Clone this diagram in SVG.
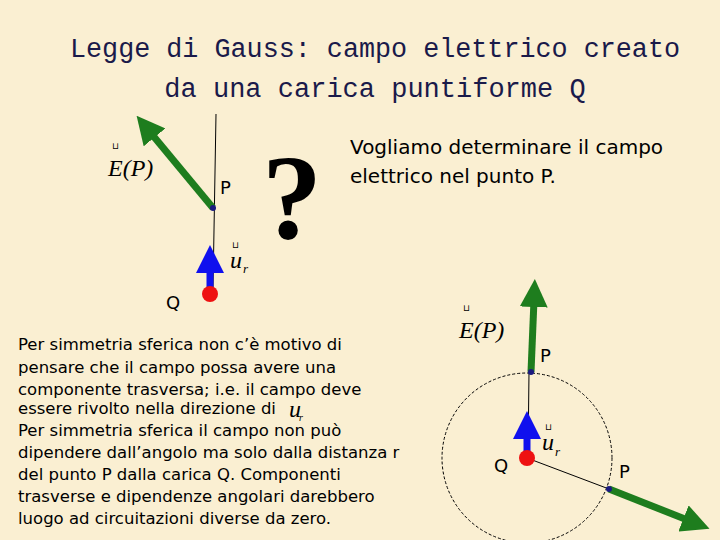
<svg xmlns="http://www.w3.org/2000/svg" width="720" height="540" viewBox="0 0 720 540">
<defs>
<style>
.t{font-family:"DejaVu Sans",sans-serif;font-size:16.5px;fill:#000}
.b{font-family:"DejaVu Sans",sans-serif;font-size:18px;fill:#000}
.v{font-family:"DejaVu Sans",sans-serif;font-size:20px;fill:#000}
.m{font-family:"Liberation Serif",serif;font-style:italic;font-size:24px;fill:#000}
.ttl{font-family:"Liberation Mono","DejaVu Sans Mono",monospace;font-size:27px;fill:#1a1a4a}
.g{stroke:#1e7d1e;stroke-width:7;fill:none}
.bl{stroke:#1010ee;stroke-width:7;fill:none}
.ln{stroke:#000;stroke-width:1;fill:none}
</style>
<marker id="ag" markerWidth="4" markerHeight="4" refX="1" refY="2" orient="auto" markerUnits="strokeWidth"><path d="M0,0L4,2L0,4z" fill="#1e7d1e"/></marker>
<marker id="ab" markerWidth="4" markerHeight="4" refX="1" refY="2" orient="auto" markerUnits="strokeWidth"><path d="M0,0L4,2L0,4z" fill="#1010ee"/></marker>
</defs>
<rect width="720" height="540" fill="#faefd2"/>
<g id="title" text-anchor="middle">
<text class="ttl" x="375" y="57" textLength="610" lengthAdjust="spacingAndGlyphs">Legge di Gauss: campo elettrico creato</text>
<text class="ttl" x="375" y="97">da una carica puntiforme Q</text>
</g>
<g id="connectors">
<line class="ln" x1="216" y1="114" x2="213" y2="288"/>
<line class="g" x1="213" y1="208" x2="150" y2="132" marker-end="url(#ag)"/>
<line class="bl" x1="210" y1="288" x2="210" y2="266" marker-end="url(#ab)"/>
<circle cx="527" cy="458" r="85" fill="none" stroke="#000" stroke-dasharray="3,2" stroke-width="1"/>
<line class="ln" x1="529" y1="372" x2="528" y2="458"/>
<line class="ln" x1="527" y1="458" x2="609" y2="489"/>
<line class="g" x1="531" y1="372" x2="534" y2="300" marker-end="url(#ag)"/>
<line class="g" x1="609" y1="489" x2="690" y2="521" marker-end="url(#ag)"/>
<line class="bl" x1="527" y1="452" x2="527" y2="432" marker-end="url(#ab)"/>
</g>
<g id="top-diagram">
<circle cx="213" cy="208" r="3" fill="#1a1a80"/>
<circle cx="210" cy="294" r="8" fill="#ee1111"/>
<text class="b" x="220" y="194">P</text>
<text class="b" x="166" y="309">Q</text>
<text class="m" x="108" y="176">E(P)</text><text x="112" y="149" font-family="DejaVu Sans" font-size="9">⊔</text>
<text class="m" x="230" y="268">u</text><text x="243" y="273" font-family="Liberation Serif" font-style="italic" font-size="13">r</text><text x="232" y="248" font-family="DejaVu Sans" font-size="9">⊔</text>
<text x="292" y="238" text-anchor="middle" font-family="Liberation Serif" font-weight="bold" font-size="120">?</text>
</g>
<g id="question-text">
<text class="v" x="350" y="154">Vogliamo determinare il campo</text>
<text class="v" x="350" y="183">elettrico nel punto P.</text>
</g>
<g id="body">
<text class="t" x="18" y="350">Per simmetria sferica non c’è motivo di</text>
<text class="t" x="18" y="373">pensare che il campo possa avere una</text>
<text class="t" x="18" y="395">componente trasversa; i.e. il campo deve</text>
<text class="t" x="18" y="414">essere rivolto nella direzione di</text>
<text class="m" x="289" y="417" font-size="18">u</text><text x="299" y="421" font-family="Liberation Serif" font-style="italic" font-size="10">r</text>
<text class="t" x="18" y="436">Per simmetria sferica il campo non può</text>
<text class="t" x="18" y="458">dipendere dall’angolo ma solo dalla distanza r</text>
<text class="t" x="18" y="480">del punto P dalla carica Q. Componenti</text>
<text class="t" x="18" y="502">trasverse e dipendenze angolari darebbero</text>
<text class="t" x="18" y="524">luogo ad circuitazioni diverse da zero.</text>
</g>
<g id="bottom-diagram">
<circle cx="531" cy="372" r="3" fill="#1a1a80"/>
<circle cx="609" cy="489" r="3" fill="#1a1a80"/>
<circle cx="527" cy="458" r="8" fill="#ee1111"/>
<text class="b" x="540" y="362">P</text>
<text class="b" x="619" y="478">P</text>
<text class="b" x="494" y="472">Q</text>
<text class="m" x="459" y="338">E(P)</text><text x="463" y="311" font-family="DejaVu Sans" font-size="9">⊔</text>
<text class="m" x="542" y="450">u</text><text x="555" y="456" font-family="Liberation Serif" font-style="italic" font-size="13">r</text><text x="545" y="430" font-family="DejaVu Sans" font-size="9">⊔</text>
</g>
</svg>
